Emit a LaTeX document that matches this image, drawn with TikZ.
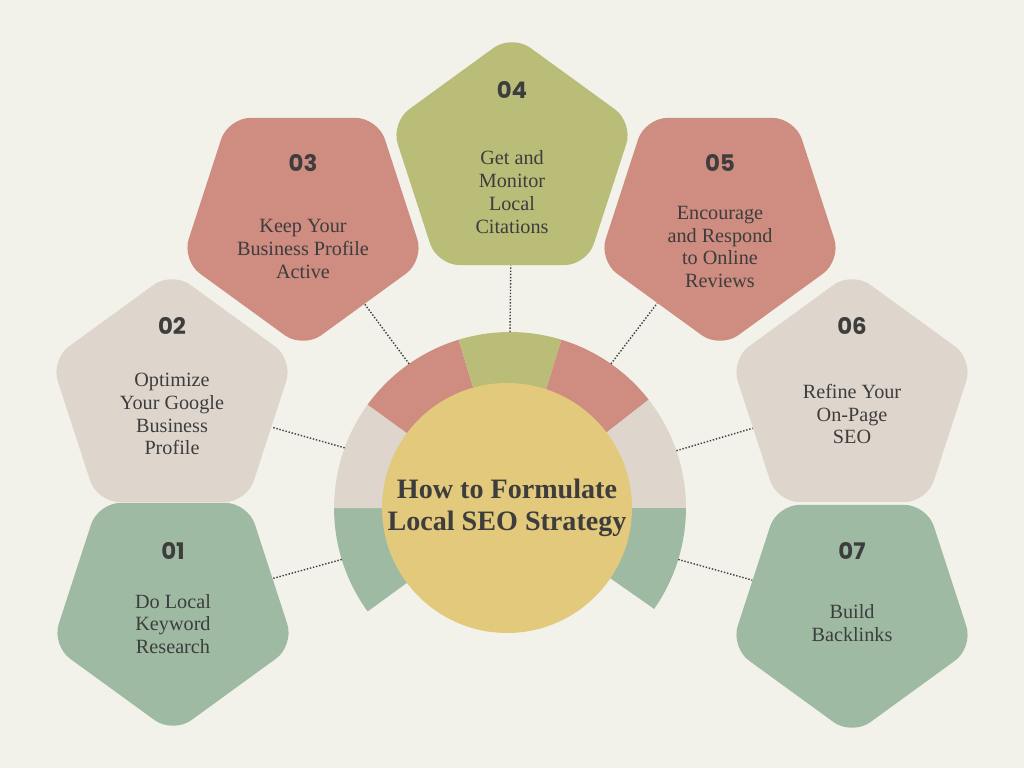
\documentclass[tikz,border=0pt]{standalone}
\usepackage{fontspec}
\setmainfont{Liberation Serif}
\newfontfamily\numfont{Poppins}
\usetikzlibrary{shapes.geometric,calc}
\definecolor{bgcol}{HTML}{F2F2EB}
\definecolor{sage}{HTML}{9EBAA3}
\definecolor{sand}{HTML}{DED6CC}
\definecolor{rose}{HTML}{CF8C80}
\definecolor{olive}{HTML}{BABD78}
\definecolor{mustard}{HTML}{E3C97B}
\definecolor{ink}{HTML}{3D3D3D}
\tikzstyle{penta}=[regular polygon,regular polygon sides=5,minimum size=5.1cm,rounded corners=0.45cm,inner sep=0pt]
\tikzstyle{num}=[font=\numfont\bfseries\fontsize{13}{13}\selectfont,text=ink]
\tikzstyle{label}=[align=center,font=\fontsize{11.5}{13}\selectfont,text=ink]
\tikzstyle{link}=[densely dotted,thick,ink]
\begin{document}
\begin{tikzpicture}[x=0.02cm,y=0.02cm]
  \fill[bgcol] (0,0) rectangle (1024,768);
  \coordinate (ctr) at (510,260);
  % ring segments
  \fill[sage] (ctr) -- ++(-144:3.52cm) arc[start angle=-144,end angle=-180,radius=3.52cm] -- cycle;
  \fill[sand] (ctr) -- ++(180:3.52cm) arc[start angle=180,end angle=144,radius=3.52cm] -- cycle;
  \fill[rose] (ctr) -- ++(144:3.52cm) arc[start angle=144,end angle=107,radius=3.52cm] -- cycle;
  \fill[olive] (ctr) -- ++(107:3.52cm) arc[start angle=107,end angle=73,radius=3.52cm] -- cycle;
  \fill[rose] (ctr) -- ++(73:3.52cm) arc[start angle=73,end angle=38,radius=3.52cm] -- cycle;
  \fill[sand] (ctr) -- ++(38:3.52cm) arc[start angle=38,end angle=0,radius=3.52cm] -- cycle;
  \fill[sage] (ctr) -- ++(0:3.52cm) arc[start angle=0,end angle=-35,radius=3.52cm] -- cycle;
  \node[circle,fill=mustard,minimum size=5.0cm,inner sep=0pt,
    font=\bfseries\fontsize{16}{18}\selectfont,text=ink,align=center] (hub) at (507,260)
    {How to Formulate\\Local SEO Strategy};

  % pentagons
  \node[penta,fill=sage,shape border rotate=180] (p1) at (173,162) {};
  \node[penta,fill=sand] (p2) at (172,369) {};
  \node[penta,fill=rose,shape border rotate=180] (p3) at (303,547) {};
  \node[penta,fill=olive] (p4) at (512,606) {};
  \node[penta,fill=rose,shape border rotate=180] (p5) at (720,547) {};
  \node[penta,fill=sand] (p6) at (852,369) {};
  \node[penta,fill=sage,shape border rotate=180] (p7) at (852,160) {};

  \node[num] (n1) at (173,217) {01};
  \node[label] (t1) at (173,144) {Do Local\\Keyword\\Research};
  \node[num] (n2) at (172,442) {02};
  \node[label] (t2) at (172,354) {Optimize\\Your Google\\Business\\Profile};
  \node[num] (n3) at (303,605) {03};
  \node[label] (t3) at (303,519) {Keep Your\\Business Profile\\Active};
  \node[num] (n4) at (512,678) {04};
  \node[label] (t4) at (512,576) {Get and\\Monitor\\Local\\Citations};
  \node[num] (n5) at (720,605) {05};
  \node[label] (t5) at (720,521) {Encourage\\and Respond\\to Online\\Reviews};
  \node[num] (n6) at (852,442) {06};
  \node[label] (t6) at (852,354) {Refine Your\\On-Page\\SEO};
  \node[num] (n7) at (852,217) {07};
  \node[label] (t7) at (852,145) {Build\\Backlinks};

  % dotted links
  \foreach \i/\a in {1/197,2/160,3/125,4/90,5/55,6/19,7/-17} {
    \coordinate (r\i) at ($(ctr)+(\a:3.52cm)$);
    \draw[link] (r\i) -- (p\i);
  }
\end{tikzpicture}
\end{document}
